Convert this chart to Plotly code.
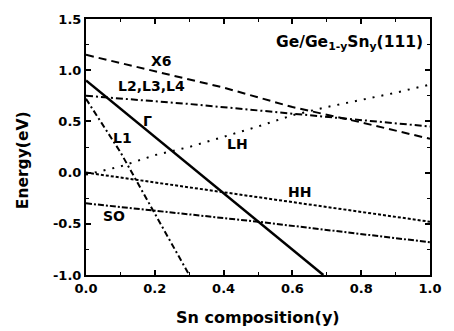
import plotly.graph_objects as go

# Data
gamma_x = [0.0, 0.69]
gamma_y = [0.90, -1.00]

x6_x = [0.0, 0.2, 0.4, 0.6, 0.8, 1.0]
x6_y = [1.15, 0.99, 0.83, 0.64, 0.49, 0.33]

l234_x = [0.0, 0.3, 0.65, 1.0]
l234_y = [0.75, 0.67, 0.56, 0.45]

l1_x = [0.0, 0.05, 0.1, 0.15, 0.2, 0.25, 0.30]
l1_y = [0.72, 0.46, 0.20, -0.10, -0.40, -0.70, -1.00]

lh_x = [0.0, 0.1, 0.2, 0.3, 0.4, 0.5, 0.6, 0.7, 0.8, 0.9, 1.0]
lh_y = [-0.02, 0.06, 0.17, 0.25, 0.35, 0.45, 0.56, 0.64, 0.71, 0.78, 0.86]

hh_x = [0.0, 0.4, 1.0]
hh_y = [0.0, -0.19, -0.48]

so_x = [0.0, 0.5, 1.0]
so_y = [-0.30, -0.48, -0.68]

labels = ["X6", "L2,L3,L4", "Γ", "L1", "LH", "HH", "SO"]
label_x = [0.22, 0.19, 0.18, 0.105, 0.44, 0.62, 0.08]
label_y = [1.09, 0.85, 0.50, 0.34, 0.28, -0.19, -0.42]

xticks = [0.0, 0.2, 0.4, 0.6, 0.8, 1.0]
yticks = [-1.0, -0.5, 0.0, 0.5, 1.0, 1.5]

FAM = "DejaVu Sans, Arial, sans-serif"

fig = go.Figure()
def add(x, y, dash, w=2):
    fig.add_trace(go.Scatter(x=x, y=y, mode="lines",
                             line=dict(color="black", width=w, dash=dash),
                             showlegend=False, hoverinfo="skip"))

add(x6_x, x6_y, "8px,5px")
add(l234_x, l234_y, "7px,3px,2px,3px")
add(gamma_x, gamma_y, "solid", 2.5)
add(l1_x, l1_y, "6px,3px,2px,3px")
add(lh_x, lh_y, "2px,7px")
add(hh_x, hh_y, "3px,2px")
add(so_x, so_y, "6px,2px,2px,2px")

font = dict(family=FAM, size=14, color="black")
for t, x, y in zip(labels, label_x, label_y):
    fig.add_annotation(x=x, y=y, text="<b>%s</b>" % t, showarrow=False, font=font)
fig.add_annotation(x=0.985, y=1.27, xanchor="right", showarrow=False,
                   text="<b>Ge/Ge<sub>1-y</sub>Sn<sub>y</sub>(111)</b>",
                   font=dict(family=FAM, size=15.5, color="black"))

# axis titles
fig.add_annotation(xref="paper", yref="paper", x=0.5, y=-0.165, yanchor="middle",
                   showarrow=False, text="<b>Sn composition(y)</b>",
                   font=dict(family=FAM, size=16, color="black"))
fig.add_annotation(xref="paper", yref="paper", x=-0.185, y=0.45, xanchor="center",
                   yanchor="middle", textangle=-90, showarrow=False,
                   text="<b>Energy(eV)</b>",
                   font=dict(family=FAM, size=15.5, color="black"))

axis_common = dict(showline=True, linewidth=2, linecolor="black", mirror="ticks",
                   ticks="inside", ticklen=5, tickwidth=1.5, tickcolor="black",
                   showgrid=False, zeroline=False,
                   tickfont=dict(family=FAM, size=13, color="black"),
                   minor=dict(ticks="inside", ticklen=3, tickcolor="black", tickwidth=1))

fig.update_xaxes(range=[0, 1.0], tickvals=xticks,
                 ticktext=["<b>%.1f</b>" % v for v in xticks],
                 minor_dtick=0.1, **axis_common)
fig.update_yaxes(range=[-1.0, 1.5], tickvals=yticks,
                 ticktext=["<b>%.1f</b>" % v for v in yticks],
                 minor_dtick=0.25, **axis_common)

fig.update_layout(width=454, height=331, margin=dict(l=86, r=18, t=16, b=56),
                  plot_bgcolor="white", paper_bgcolor="white")
fig.write_html("out.html", config={"displayModeBar": False},
               post_script="document.body.style.margin='0';document.body.style.overflow='hidden';")
